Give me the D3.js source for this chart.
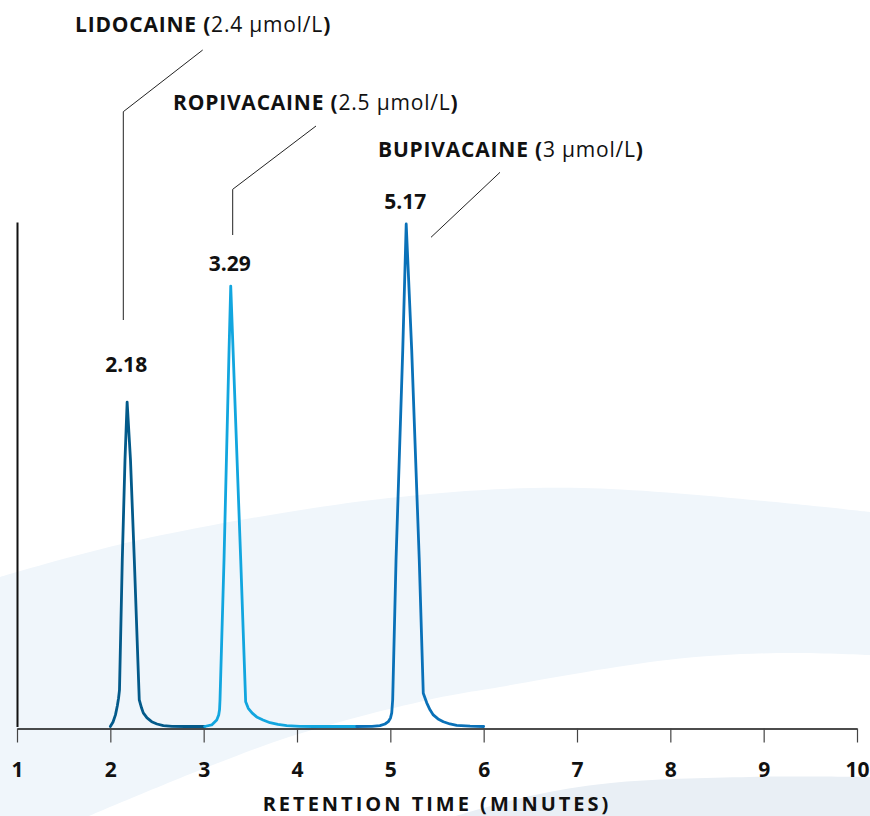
<!DOCTYPE html>
<html>
<head>
<meta charset="utf-8">
<script src="https://cdn.jsdelivr.net/npm/d3@7"></script>
<style>
  html, body { margin: 0; padding: 0; background: #fff; }
  svg { display: block; font-family: "Open Sans", "Noto Sans", sans-serif; }
</style>
</head>
<body>
<div id="chart"></div>
<script>
// retention time (min) and detector signal (% of full scale) for each trace
var lidoTime   = [2.00, 2.029, 2.055, 2.075, 2.088, 2.098, 2.128, 2.157, 2.18, 2.216, 2.257, 2.310, 2.334, 2.353, 2.393, 2.443, 2.500, 2.568, 2.661, 2.80, 3.01];
var lidoSignal = [0, 0.9, 2.3, 4.1, 5.6, 7.2, 33.0, 52.8, 64.3, 52.8, 33.0, 5.3, 3.7, 2.7, 1.7, 0.95, 0.5, 0.16, 0.04, 0, 0];

var ropiTime   = [3.01, 3.086, 3.140, 3.161, 3.170, 3.175, 3.218, 3.272, 3.29, 3.315, 3.397, 3.450, 3.478, 3.518, 3.568, 3.636, 3.711, 3.796, 3.890, 4.032, 4.175, 4.64];
var ropiSignal = [0, 0.3, 1.3, 2.3, 3.3, 5.25, 33.0, 74.6, 87.3, 74.6, 33.0, 4.9, 3.6, 2.7, 1.9, 1.3, 0.75, 0.4, 0.16, 0.04, 0, 0];

var bupiTime   = [4.64, 4.804, 4.889, 4.943, 4.978, 5.002, 5.015, 5.025, 5.061, 5.133, 5.17, 5.229, 5.310, 5.353, 5.390, 5.425, 5.460, 5.511, 5.568, 5.639, 5.711, 5.854, 6.0];
var bupiSignal = [0, 0.04, 0.16, 0.5, 0.95, 1.7, 2.7, 5.25, 33.0, 74.6, 99.6, 74.6, 33.0, 6.6, 4.7, 3.3, 2.3, 1.5, 0.95, 0.5, 0.24, 0.06, 0];

var compounds   = ["LIDOCAINE", "ROPIVACAINE", "BUPIVACAINE"];
var concLabels  = ["2.4 \u03bcmol/L", "2.5 \u03bcmol/L", "3 \u03bcmol/L"];
var peakTimes   = [2.18, 3.29, 5.17];
var peakSignals = [64.3, 87.3, 99.6];
var xTicks      = [1, 2, 3, 4, 5, 6, 7, 8, 9, 10];
var xTitle      = "RETENTION TIME (MINUTES)";

var colors = ["#035a8a", "#12a6df", "#0a71b8"];

var W = 870, H = 816;

var svg = d3.select("#chart").append("svg")
    .attr("width", W)
    .attr("height", H);

// background swooshes
var swoosh = d3.line().curve(d3.curveCatmullRom.alpha(0.5));
var bandTop = [[0, 577], [139, 540], [389, 498], [583, 488], [870, 512]];
var bandBottom = [[870, 655], [778, 653], [667, 660], [500, 687], [428, 700], [280, 740], [89, 816]];
svg.append("path")
    .attr("d", swoosh(bandTop) + "L" + swoosh(bandBottom).slice(1) + "L0,816Z")
    .attr("fill", "#f0f6fb");

var band2Top = [[456, 816], [530, 796], [611, 783], [750, 777], [870, 777]];
svg.append("path")
    .attr("d", swoosh(band2Top) + "L870,816Z")
    .attr("fill", "#e9eff5");

var x = d3.scaleLinear().domain([1, 10]).range([17, 857]);
var y = d3.scaleLinear().domain([0, 100]).range([726.5, 222]);

// axes
var xAxis = svg.append("g")
    .attr("transform", "translate(0,728.5)")
    .call(d3.axisBottom(x).tickValues(xTicks).tickSize(14).tickSizeOuter(0).tickFormat(d3.format("d")));
xAxis.select(".domain").attr("stroke", "#111").attr("stroke-width", 1.6);
xAxis.selectAll(".tick line").attr("stroke", "#444").attr("stroke-width", 1.2);
xAxis.selectAll(".tick text")
    .attr("y", 48.5)
    .attr("dy", 0)
    .attr("fill", "#111")
    .style("font-family", "'Open Sans', sans-serif")
    .style("font-weight", "bold")
    .style("font-size", "21px");

var yAxis = svg.append("g")
    .attr("transform", "translate(17,0)")
    .call(d3.axisLeft(y).tickValues([]).tickSizeOuter(0));
yAxis.select(".domain").attr("stroke", "#111").attr("stroke-width", 2);

svg.append("text")
    .attr("x", (x(1) + x(10)) / 2)
    .attr("y", 811)
    .attr("text-anchor", "middle")
    .attr("fill", "#111")
    .style("font-size", "20px")
    .style("font-weight", "bold")
    .style("letter-spacing", "3px")
    .text(xTitle);

// traces
var line = d3.line()
    .x(function (d) { return x(d[0]); })
    .y(function (d) { return y(d[1]); });

var traces = [
    d3.zip(lidoTime, lidoSignal),
    d3.zip(ropiTime, ropiSignal),
    d3.zip(bupiTime, bupiSignal)
];

svg.selectAll(".trace")
    .data(traces)
    .enter()
    .append("path")
    .attr("class", "trace")
    .attr("d", line)
    .attr("fill", "none")
    .attr("stroke", function (d, i) { return colors[i]; })
    .attr("stroke-width", 2.8)
    .attr("stroke-linejoin", "round")
    .attr("stroke-linecap", "round");

// peak retention time labels
var peakGap = [30, 15, 15];
svg.selectAll(".peak")
    .data(peakTimes)
    .enter()
    .append("text")
    .attr("class", "peak")
    .attr("x", function (d) { return x(d) - 1; })
    .attr("y", function (d, i) { return y(peakSignals[i]) - peakGap[i]; })
    .attr("text-anchor", "middle")
    .attr("fill", "#111")
    .style("font-size", "21px")
    .style("font-weight", "bold")
    .text(function (d) { return d.toFixed(2); });

// compound names with leader lines
var namePos = [[75, 32], [173, 110], [378, 157]];
var leaders = [
    [[202.7, 50], [123.3, 111.7], [123.3, 320]],
    [[316, 126], [232.7, 189.3], [232.7, 235]],
    [[500, 172.3], [431, 237.3]]
];

svg.selectAll(".leader")
    .data(leaders)
    .enter()
    .append("path")
    .attr("class", "leader")
    .attr("d", d3.line())
    .attr("fill", "none")
    .attr("stroke", "#222")
    .attr("stroke-width", 1);

var names = svg.selectAll(".name")
    .data(compounds)
    .enter()
    .append("text")
    .attr("class", "name")
    .attr("x", function (d, i) { return namePos[i][0]; })
    .attr("y", function (d, i) { return namePos[i][1]; })
    .attr("fill", "#111")
    .style("font-size", "21px")
    .style("letter-spacing", "0.8px");

names.append("tspan").style("font-weight", "bold").text(function (d) { return d + " ("; });
names.append("tspan").text(function (d, i) { return concLabels[i]; });
names.append("tspan").style("font-weight", "bold").text(")");
</script>
</body>
</html>
